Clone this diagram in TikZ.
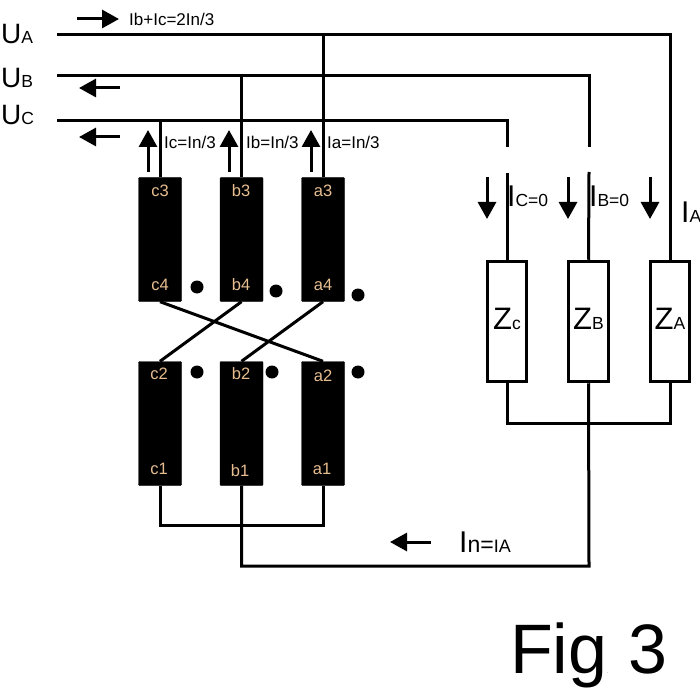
\documentclass[tikz,border=0pt]{standalone}
\usepackage{fontspec}
\setmainfont{Liberation Sans}
\usetikzlibrary{arrows.meta}
\tikzset{
  wire/.style={line width=3pt,black},
  flow/.style={line width=3pt,black,-{Triangle[length=17pt,width=18pt]}},
  coil/.style={draw=black,fill=black,rounded corners=1pt,minimum width=43pt,minimum height=124pt,inner sep=0pt},
  load/.style={draw=black,fill=white,line width=3pt,minimum width=39.5pt,minimum height=120.5pt,inner sep=0pt},
  polarity/.style={circle,fill=black,minimum size=13pt,inner sep=0pt},
  coiltext/.style={text=coiltan,font=\fontsize{16.5}{16.5}\selectfont,inner sep=0pt},
  small/.style={font=\fontsize{17}{17}\selectfont,anchor=west,inner sep=0pt},
  line/.style={anchor=base west,inner sep=0pt},
  zname/.style={anchor=base,inner sep=0pt}
}
\definecolor{coiltan}{RGB}{232,190,145}
\newcommand{\bigsub}[3]{{\fontsize{#1}{#1}\selectfont #2\fontsize{17.5}{17.5}\selectfont #3}}
\begin{document}
\begin{tikzpicture}[x=1pt,y=-1pt]
\useasboundingbox (0,0) rectangle (700,700);
\node[coil] (c3) at (160,239.5) {};
\node[coil] (b3) at (241.5,239.5) {};
\node[coil] (a3) at (323,239.5) {};
\node[coil] (c2) at (160,423.5) {};
\node[coil] (b2) at (241.5,423.5) {};
\node[coil] (a2) at (323,423.5) {};
\node[load] (zc) at (507,321.5) {};
\node[load] (zb) at (588.5,321.5) {};
\node[load] (za) at (670,321.5) {};
\node[coiltext] (tc3) at (160,191) {c3};
\node[coiltext] (tb3) at (241,191) {b3};
\node[coiltext] (ta3) at (323,191) {a3};
\node[coiltext] (tc4) at (160,285) {c4};
\node[coiltext] (tb4) at (241,285) {b4};
\node[coiltext] (ta4) at (323,285) {a4};
\node[coiltext] (tc2) at (159,374) {c2};
\node[coiltext] (tb2) at (241,374) {b2};
\node[coiltext] (ta2) at (323,376) {a2};
\node[coiltext] (tc1) at (159,469) {c1};
\node[coiltext] (tb1) at (240,471) {b1};
\node[coiltext] (ta1) at (322,469) {a1};
\node[polarity] (pc4) at (197,287) {};
\node[polarity] (pb4) at (276,291) {};
\node[polarity] (pa4) at (358,295) {};
\node[polarity] (pc2) at (197,372) {};
\node[polarity] (pb2) at (272,372) {};
\node[polarity] (pa2) at (358,372) {};
\coordinate (ua) at (57,35);
\coordinate (ub) at (57,76);
\coordinate (uc) at (57,121);
\coordinate (ka) at (670,35);
\coordinate (kb) at (589,76);
\coordinate (kc) at (507,121);
\coordinate (ja) at (323,35);
\coordinate (jb) at (241.5,76);
\coordinate (jc) at (160,121);
\coordinate (gc) at (507,147);
\coordinate (gb) at (589,147);
\coordinate (hc) at (507,173);
\coordinate (hb) at (589,172);
\coordinate (nl) at (507,423);
\coordinate (nm) at (589,423);
\coordinate (nr) at (670,423);
\coordinate (sl) at (160,525);
\coordinate (sr) at (323,525);
\coordinate (rr) at (589,566);
\coordinate (rl) at (241.5,566);
\draw[wire] (ua) -- (ka) -- (za.north);
\draw[wire] (ub) -- (kb) -- (gb);
\draw[wire] (uc) -- (kc) -- (gc);
\draw[wire] (hc) -- (zc.north);
\draw[wire] (hb) -- (zb.north);
\draw[wire] (a3.north) -- (ja);
\draw[wire] (b3.north) -- (jb);
\draw[wire] (c3.north) -- (jc);
\draw[wire] (c3.south) -- (a2.north);
\draw[wire] (b3.south) -- (c2.north);
\draw[wire] (a3.south) -- (b2.north);
\draw[wire] (c2.south) -- (sl) -- (sr) -- (a2.south);
\draw[wire] (zc.south) -- (nl) -- (nr) -- (za.south);
\draw[wire] (zb.south) -- (rr) -- (rl) -- (b2.south);
\coordinate (f1s) at (77,19);
\coordinate (f1e) at (119,19);
\coordinate (f2s) at (120,88);
\coordinate (f2e) at (79,88);
\coordinate (f3s) at (120,137);
\coordinate (f3e) at (79,137);
\coordinate (f4s) at (148,172);
\coordinate (f4e) at (148,130);
\coordinate (f5s) at (229,172);
\coordinate (f5e) at (229,130);
\coordinate (f6s) at (311,172);
\coordinate (f6e) at (311,130);
\coordinate (f7s) at (487,177);
\coordinate (f7e) at (487,219);
\coordinate (f8s) at (568,177);
\coordinate (f8e) at (568,219);
\coordinate (f9s) at (650,177);
\coordinate (f9e) at (650,219);
\coordinate (f10s) at (431,542);
\coordinate (f10e) at (390,542);
\draw[flow] (f1s) -- (f1e);
\draw[flow] (f2s) -- (f2e);
\draw[flow] (f3s) -- (f3e);
\draw[flow] (f4s) -- (f4e);
\draw[flow] (f5s) -- (f5e);
\draw[flow] (f6s) -- (f6e);
\draw[flow] (f7s) -- (f7e);
\draw[flow] (f8s) -- (f8e);
\draw[flow] (f9s) -- (f9e);
\draw[flow] (f10s) -- (f10e);
\node[small] (lsum) at (129,19) {Ib+Ic=2In/3};
\node[small] (lc) at (164,142) {Ic=In/3};
\node[small] (lb) at (246,142) {Ib=In/3};
\node[small] (la) at (327,142) {Ia=In/3};
\node[line] (lua) at (1,44) {\bigsub{28}{U}{A}};
\node[line] (lub) at (1,88) {\bigsub{28}{U}{B}};
\node[line] (luc) at (1,125) {\bigsub{28}{U}{C}};
\node[zname] (lzc) at (507,329) {\bigsub{31}{Z}{c}};
\node[zname] (lzb) at (588.5,329) {\bigsub{31}{Z}{B}};
\node[zname] (lza) at (670,329) {\bigsub{31}{Z}{A}};
\node[line] (lic) at (507,207) {\bigsub{30}{I}{C=0}};
\node[line] (lib) at (589,207) {\bigsub{30}{I}{B=0}};
\node[line] (lia) at (681,223) {\bigsub{30}{I}{A}};
\node[line] (lin) at (459,552) {{\fontsize{30}{30}\selectfont I}{\fontsize{23}{23}\selectfont n=}{\fontsize{18}{18}\selectfont IA}};
\node[line] (lfig) at (510,673) {{\fontsize{70}{70}\selectfont Fig}{\fontsize{4}{4}\selectfont .}{\fontsize{70}{70}\selectfont\ 3}};
\end{tikzpicture}
\end{document}
